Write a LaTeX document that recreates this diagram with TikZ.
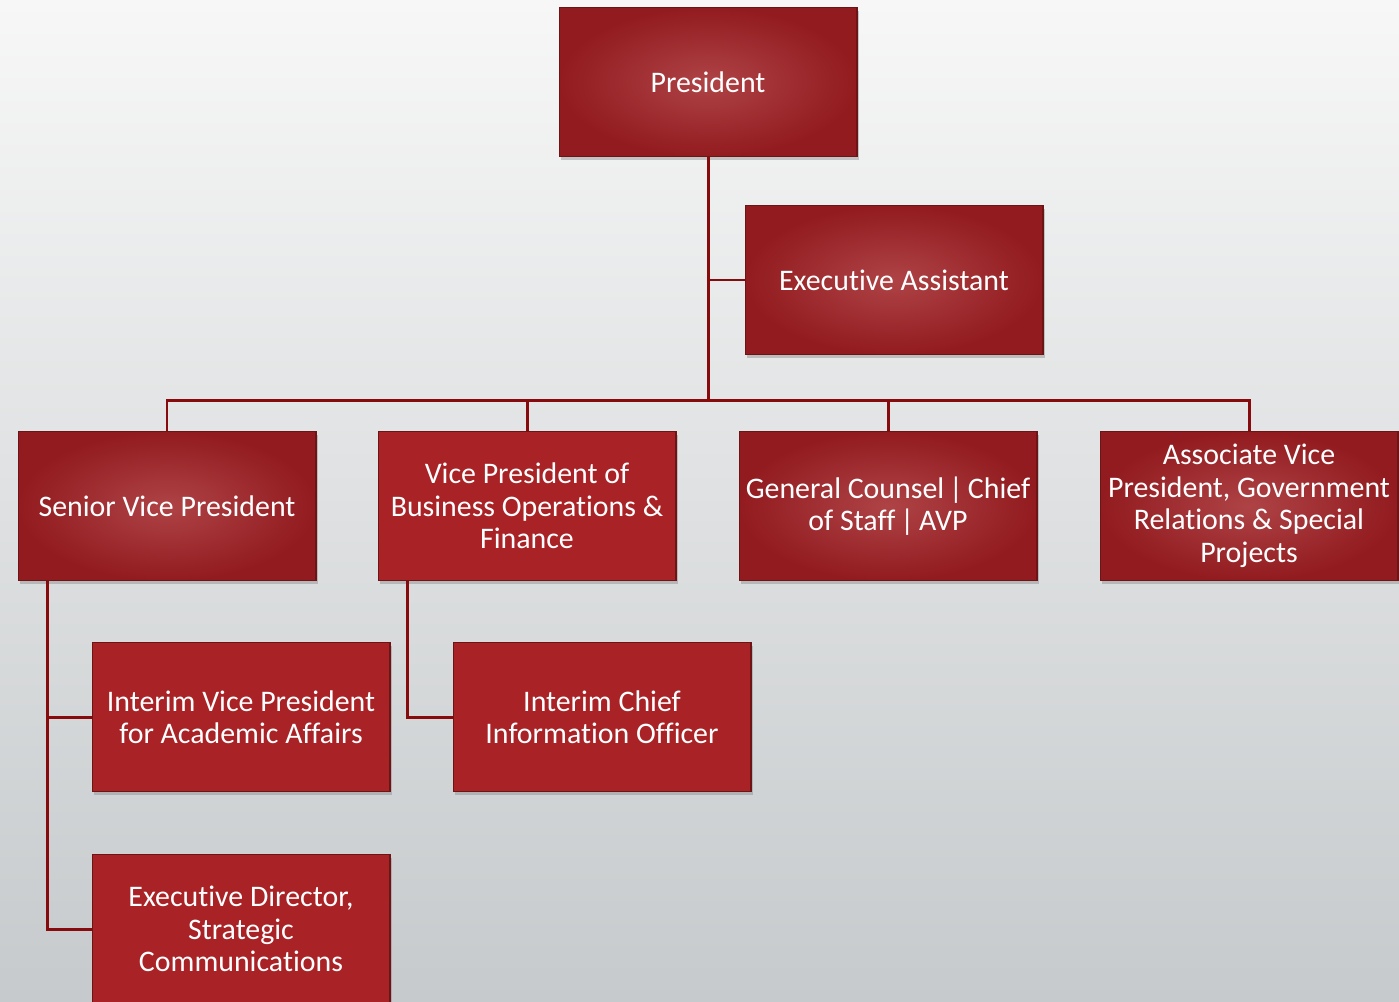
\documentclass[tikz,border=0pt]{standalone}
\usepackage{fontspec}
\setmainfont{Carlito}[Ligatures=NoCommon]
\usepackage{tikz}
\usetikzlibrary{shadows}
\definecolor{boxdark}{HTML}{921B1F}
\definecolor{boxlight}{HTML}{AE4346}
\definecolor{boxflat}{HTML}{A82226}
\definecolor{linkred}{HTML}{870A0C}
\definecolor{bgtop}{HTML}{F7F7F7}
\definecolor{bgbot}{HTML}{C6CACC}
\tikzstyle{gbox} = [rectangle, draw=boxdark!75!black, line width=0.6pt, shading=radial, inner color=boxlight, outer color=boxdark, text=white, align=center, inner sep=2pt, minimum width=5.96cm, minimum height=2.98cm, font=\fontsize{17}{18.5}\selectfont, drop shadow={shadow xshift=0.04cm, shadow yshift=-0.07cm, opacity=0.4}]
\tikzstyle{fbox} = [gbox, shading=axis, top color=boxflat, bottom color=boxflat]
\tikzstyle{line} = [draw=linkred, line width=1.7pt]

\begin{document}
\begin{tikzpicture}[x=0.02cm, y=-0.02cm]
    \shade[top color=bgtop, bottom color=bgbot] (0,0) rectangle (1399,1001);
    \useasboundingbox (0,0) rectangle (1399,1001);
    \clip (0,0) rectangle (1399,1001);

    \coordinate (bus) at (708,400);

    \node[gbox](pres) at (708,82) {President};
    \node[gbox](ea) at (894,280) {Executive Assistant};
    \node[gbox](svp) at (167,506) {Senior Vice President};
    \node[fbox](vpb) at (527,506) {Vice President of\\Business Operations \&\\Finance};
    \node[gbox](gc) at (888,506) {General Counsel\,|\,Chief\\of Staff\,|\,AVP};
    \node[gbox](avp) at (1249,506) {Associate Vice\\President, Government\\Relations \& Special\\Projects};
    \node[fbox](ivp) at (241,717) {Interim Vice President\\for Academic Affairs};
    \node[fbox](cio) at (602,717) {Interim Chief\\Information Officer};
    \node[fbox](ed) at (241,929) {Executive Director,\\Strategic\\Communications};

    \path[line] (pres.south) -- (bus);
    \path[line] (pres.south |- ea.west) -- (ea.west);
    \path[line] (svp.north) |- (bus) -| (avp.north);
    \path[line] (vpb.north) -- (vpb.north |- bus);
    \path[line] (gc.north) -- (gc.north |- bus);
    \path[line] ([xshift=0.6cm]svp.south west) |- (ivp.west);
    \path[line] ([xshift=0.6cm]svp.south west) |- (ed.west);
    \path[line] ([xshift=0.6cm]vpb.south west) |- (cio.west);
\end{tikzpicture}
\end{document}
